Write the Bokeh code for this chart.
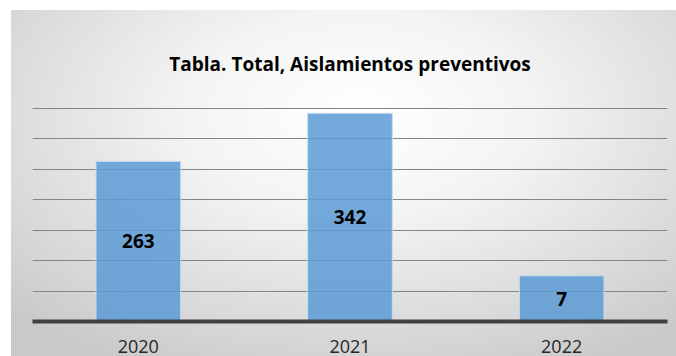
from bokeh.plotting import figure
from bokeh.models import ColumnDataSource, FactorRange, Range1d, FixedTicker, LabelSet, Title
from bokeh.core.properties import value
from bokeh.embed import file_html
from bokeh.resources import INLINE

# ---- data ----
categories = ["2020", "2021", "2022"]
values = [263, 342, 75]
value_labels = ["263", "342", "7"]
y_ticks = [0, 50, 100, 150, 200, 250, 300, 350]
title_text = "Tabla. Total, Aislamientos preventivos"

source = ColumnDataSource(dict(
    cat=categories,
    val=values,
    lab=value_labels,
    mid=[v / 2 for v in values],
))

p = figure(
    width=676, height=356,
    x_range=FactorRange(*categories, range_padding=0, factor_padding=0),
    y_range=Range1d(0, 351.5),
    output_backend="svg", toolbar_location=None,
    min_border_left=32, min_border_right=9, min_border_top=107, min_border_bottom=35,
)
p.border_fill_color = None
p.background_fill_color = None
p.outline_line_color = None
p.styles = {
    "background": "linear-gradient(to right, #ffffff 11px, transparent 11px), "
                  "linear-gradient(to bottom, #ffffff 10px, transparent 10px), "
                  "radial-gradient(ellipse 72% 80% at 53% 32%, #ffffff 0%, #f4f4f4 35%, #dadada 75%, #c9c9c9 100%)"
}

t = Title(text=title_text, align="center", text_font="Open Sans", text_font_size="19px",
          text_font_style="bold", text_color="#000000", standoff=62)
p.add_layout(t, "above")

p.vbar(x="cat", top="val", width=0.4, source=source,
       fill_color="#5b9bd5", fill_alpha=0.85, line_color="#c5dcf0", line_width=1)

labels = LabelSet(x="cat", y="mid", text="lab", source=source,
                  text_align="center", text_baseline="middle",
                  text_font=value("Open Sans"), text_font_size="19px", text_font_style="bold",
                  text_color="#000000")
p.add_layout(labels)

p.yaxis.visible = False
p.ygrid.ticker = FixedTicker(ticks=y_ticks)
p.ygrid.grid_line_color = "#858585"
p.ygrid.grid_line_width = 1
p.xgrid.grid_line_color = None

p.xaxis.axis_line_color = "#404040"
p.xaxis.axis_line_width = 4
p.xaxis.major_tick_line_color = None
p.xaxis.minor_tick_line_color = None
p.xaxis.major_tick_out = 0
p.xaxis.major_tick_in = 0
p.xaxis.major_label_standoff = 18
p.xaxis.major_label_text_font = "Open Sans"
p.xaxis.major_label_text_font_size = "18px"
p.xaxis.major_label_text_color = "#262626"

open("out.html", "w").write(file_html(p, INLINE))
